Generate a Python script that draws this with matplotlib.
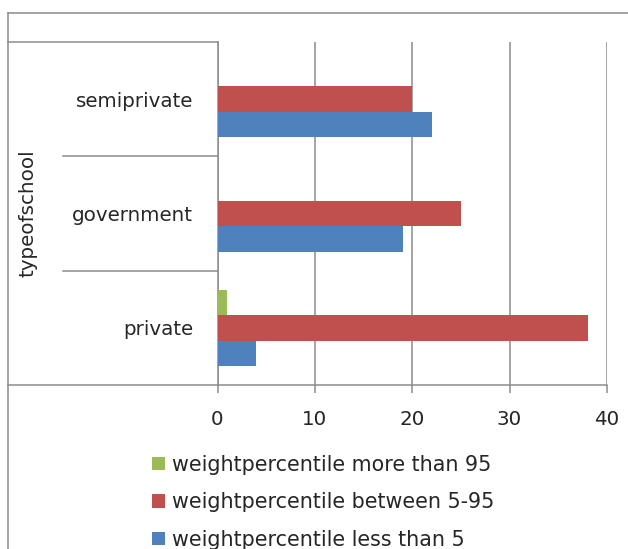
import matplotlib.pyplot as plt
import numpy as np
from matplotlib.transforms import blended_transform_factory

# pivot chart: typeofschool vs weight percentile counts
schools = ['private', 'government', 'semiprivate']
less_than_5 = [4, 19, 22]
between_5_95 = [38, 25, 20]
more_than_95 = [1, 0, 0]
series_names = ['weightpercentile less than 5',
                'weightpercentile between 5-95',
                'weightpercentile more than 95']
colors = ['#4F81BD', '#C0504D', '#9BBB59']
xticks = [0, 10, 20, 30, 40]

W, H = 628, 549
fig = plt.figure(figsize=(W / 100, H / 100), dpi=100)
fig.patch.set_facecolor('white')

# plot area in pixels: x 217.5..607, y 42..385
ax = fig.add_axes([217.5 / W, 1 - 385 / H, (607 - 217.5) / W, (385 - 42) / H])

txt = '#262626'
grid = '#8c8c8c'
fs = 14.3

y = np.arange(len(schools)) + 0.5
h = 1 / 4.5  # gap width 150%
series = [less_than_5, between_5_95, more_than_95]
bars = []
for i, (vals, name, c) in enumerate(zip(series, series_names, colors)):
    b = ax.barh(y + (i - 1) * h, vals, height=h, color=c, label=name, zorder=3)
    bars.append(b)

ax.set_xlim(0, 40)
ax.set_ylim(0, len(schools))
ax.set_xticks(xticks)
ax.set_yticks(y)
ax.set_yticklabels(schools)
ax.xaxis.grid(True, color=grid, linewidth=1.1, zorder=0)
ax.set_axisbelow(True)

for s in ['top', 'right']:
    ax.spines[s].set_visible(False)
for s in ['left', 'bottom']:
    ax.spines[s].set_color(grid)
    ax.spines[s].set_linewidth(1.1)

ax.tick_params(axis='x', direction='out', length=6, width=1.1, color=grid,
               pad=12, labelsize=fs, labelcolor=txt)
ax.tick_params(axis='y', length=0, pad=17.5, labelsize=fs, labelcolor=txt)

ax.set_ylabel('typeofschool', fontsize=fs, color=txt)
ax.yaxis.set_label_coords((37 - 217.5) / (607 - 217.5), 0.5)

# category separators / pivot field box, tied to category boundaries
tr = blended_transform_factory(fig.transFigure, ax.transData)
for k in range(len(schools) + 1):
    x0 = 8 / W if k in (0, len(schools)) else 63 / W
    ax.plot([x0, 217.5 / W], [k, k], color=grid, linewidth=1.1,
            transform=tr, clip_on=False, zorder=1)

# outer chart frame
fig.add_artist(plt.Line2D([8 / W, 8 / W], [0, 1 - 13 / H], color=grid,
                          linewidth=1.1, transform=fig.transFigure))
fig.add_artist(plt.Line2D([8 / W, 1], [1 - 13 / H, 1 - 13 / H], color=grid,
                          linewidth=1.1, transform=fig.transFigure))

leg = fig.legend(handles=bars[::-1], loc='upper left',
                 bbox_to_anchor=(152 / W, 1 - 455 / H), frameon=False,
                 fontsize=14.9, labelcolor=txt, handlelength=0.62,
                 handleheight=0.62, handletextpad=0.33, labelspacing=0.84,
                 borderpad=0, borderaxespad=0)

fig.savefig('out.png', dpi=100)
